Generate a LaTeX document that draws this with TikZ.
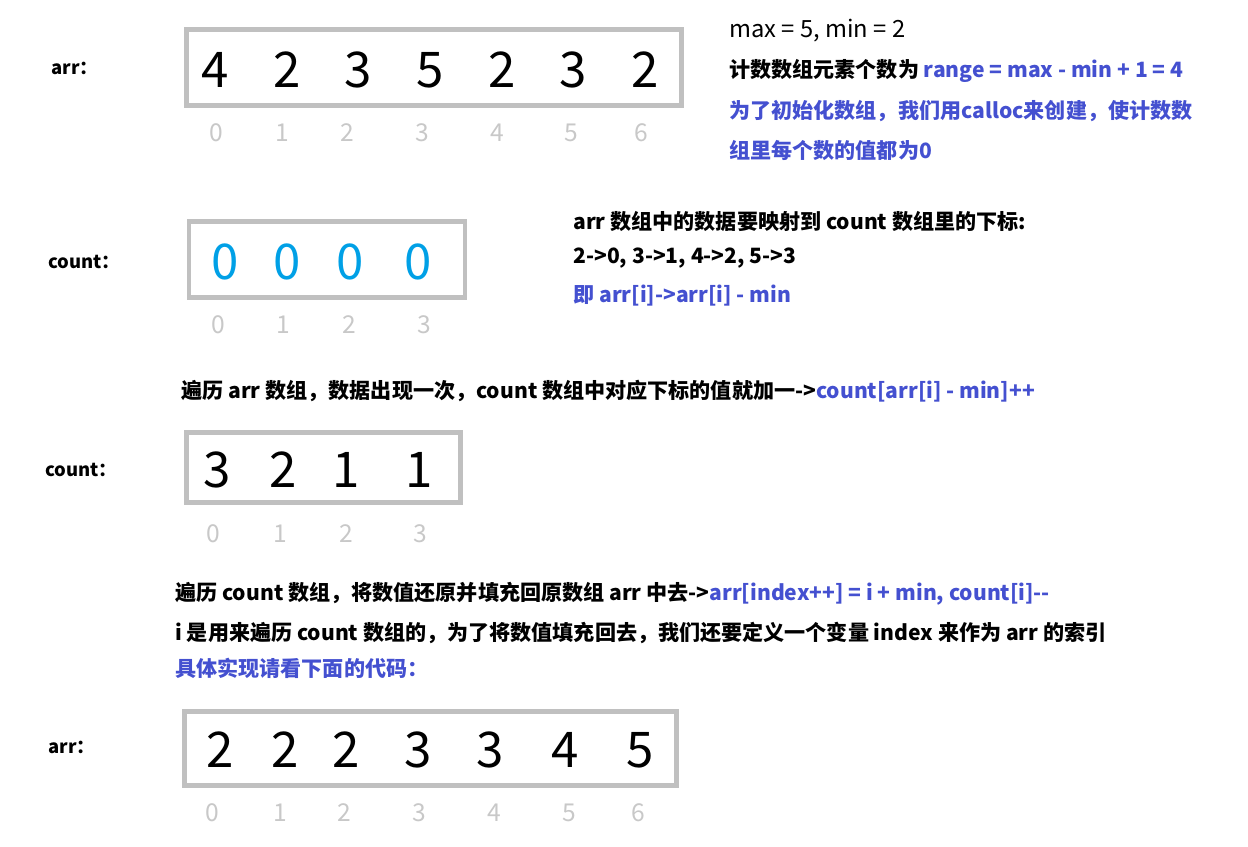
\documentclass[tikz,border=0pt]{standalone}
\usepackage{fontspec}
\setmainfont{Noto Sans CJK SC}
\definecolor{tipblue}{RGB}{68,80,208}
\definecolor{zeroblue}{RGB}{0,160,230}
\definecolor{boxgray}{RGB}{192,192,192}
\definecolor{idxgray}{RGB}{200,200,200}
\tikzset{
    valnum/.style={font=\fontsize{28}{30}\selectfont, inner sep=0pt},
    idxnum/.style={font=\fontsize{14}{16}\selectfont, text=idxgray, inner sep=0pt},
    rowlabel/.style={font=\fontsize{10.5}{12}\selectfont\bfseries, anchor=west, inner sep=0pt},
    note/.style={font=\fontsize{12}{14}\selectfont\bfseries, anchor=west, inner sep=0pt},
    arraybox/.style={draw=boxgray, line width=2.8pt},
}
\NewDocumentCommand{\DrawValues}{O{} m m m}{%
    \foreach \XPos/\Val [count=\Idx from 0] in {#4} {
        \node [valnum, #1] (#2-\Idx) at (\XPos,#3) {\Val};
    }
}
\NewDocumentCommand{\DrawIndices}{m m m}{%
    \foreach \XPos [count=\Idx from 0] in {#3} {
        \node [idxnum] (#1-\Idx) at (\XPos,#2) {\Idx};
    }
}
\begin{document}
\begin{tikzpicture}[
    x={(0.02cm,0cm)}, y={(0cm,-0.02cm)}% pixel grid, y downwards
    ]
    \useasboundingbox (0,0) rectangle (1248,846);

    % first arr
    \node [rowlabel] (arrlabel) at (51,68) {arr：};
    \draw [arraybox] (186.5,29.5) rectangle (681.5,105.5);
    \DrawValues{arr}{70}{215/4, 287/2, 358/3, 430/5, 502/2, 573/3, 645/2}
    \DrawIndices{arridx}{133}{216, 282, 347, 422, 497, 571, 641}

    \node [note, font=\fontsize{13.5}{16}\selectfont] (maxmin) at (729,31) {max = 5, min = 2};
    \node [note] (range) at (729,71) {计数数组元素个数为 \textcolor{tipblue}{range = max - min + 1 = 4}};
    \node [note, text=tipblue] (calloc) at (729,111) {为了初始化数组，我们用calloc来创建，使计数数};
    \node [note, text=tipblue] (zeros) at (729,150) {组里每个数的值都为0};

    % count filled with zeros
    \node [rowlabel] (cntlabel) at (48,262) {count：};
    \draw [arraybox] (189,221.5) rectangle (465,297.5);
    \DrawValues[text=zeroblue]{cnt}{262}{225/0, 287/0, 350/0, 418/0}
    \DrawIndices{cntidx}{325}{218, 283, 349, 424}

    \node [note] (mapping) at (573,221) {arr 数组中的数据要映射到 count 数组里的下标:};
    \node [note] (pairs) at (573,258) {2->0, 3->1, 4->2, 5->3};
    \node [note, text=tipblue] (shift) at (573,296) {即 arr[i]->arr[i] - min};

    \node [note] (tally) at (181,391) {遍历 arr 数组，数据出现一次，count 数组中对应下标的值就加一->\textcolor{tipblue}{count[arr[i] - min]++}};

    % count after tally
    \node [rowlabel] (tallylabel) at (45,470) {count：};
    \draw [arraybox] (186.5,432.5) rectangle (460.5,502.5);
    \DrawValues{tal}{470}{217/3, 283/2, 346/1, 419/1}
    \DrawIndices{talidx}{534}{213, 280, 346, 420}

    \node [note] (restore) at (175,594) {遍历 count 数组，将数值还原并填充回原数组 arr 中去->\textcolor{tipblue}{arr[index++] = i + min, count[i]-{}-}};
    \node [note] (index) at (175,633) {i 是用来遍历 count 数组的，为了将数值填充回去，我们还要定义一个变量 index 来作为 arr 的索引};
    \node [note, text=tipblue] (code) at (175,668) {具体实现请看下面的代码：};

    % sorted arr
    \node [rowlabel] (sortlabel) at (48,747) {arr：};
    \draw [arraybox] (184.5,711.5) rectangle (676.5,785.5);
    \DrawValues{srt}{750}{220/2, 285/2, 346/2, 418/3, 490/3, 565/4, 640/5}
    \DrawIndices{srtidx}{813}{212, 280, 344, 419, 494, 569, 638}

\end{tikzpicture}
\end{document}
